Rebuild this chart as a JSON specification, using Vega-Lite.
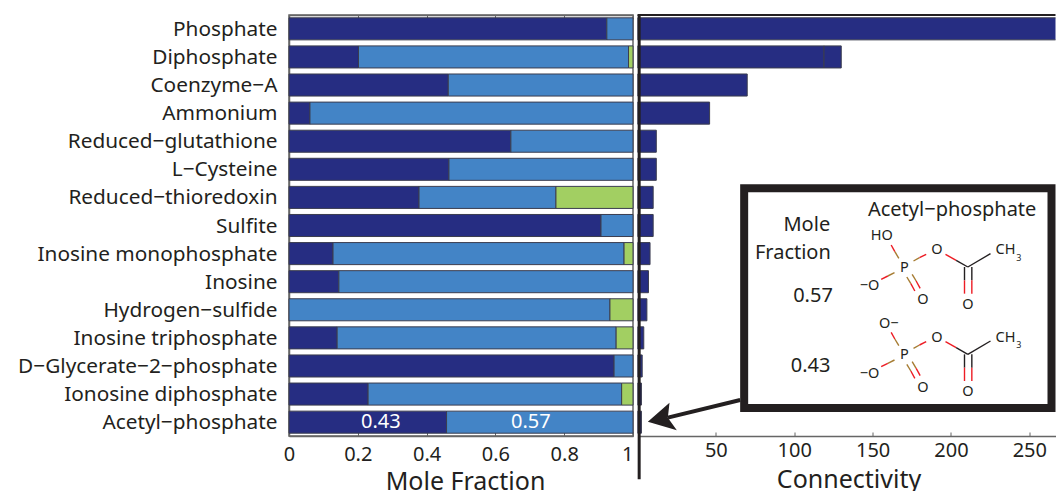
{
"$schema":"https://vega.github.io/schema/vega-lite/v6.json",
"padding":{"left":0,"top":13,"right":0,"bottom":0},
"background":"white",
"spacing":1.5,
"config":{"font":"Noto Sans"},
"resolve":{"scale":{"color":"independent"}},
"datasets":{
"bonds":[
{"m":"a","x":755,"y":222,"x2":766,"y2":242,"c":"red"},{"m":"a","x":766,"y":242,"x2":778,"y2":262,"c":"brown"},
{"m":"a","x":822,"y":270,"x2":840,"y2":260,"c":"brown"},{"m":"a","x":840,"y":260,"x2":860,"y2":250,"c":"red"},
{"m":"a","x":765,"y":305,"x2":745,"y2":315,"c":"brown"},{"m":"a","x":745,"y":315,"x2":725,"y2":325,"c":"red"},
{"m":"a","x":802,"y":318,"x2":814,"y2":338,"c":"brown"},{"m":"a","x":814,"y":338,"x2":826,"y2":360,"c":"red"},
{"m":"a","x":818,"y":310,"x2":830,"y2":330,"c":"brown"},{"m":"a","x":830,"y":330,"x2":842,"y2":352,"c":"red"},
{"m":"a","x":918,"y":250,"x2":950,"y2":268,"c":"red"},{"m":"a","x":950,"y":268,"x2":985,"y2":288,"c":"black"},
{"m":"a","x":985,"y":288,"x2":1053,"y2":248,"c":"black"},
{"m":"a","x":975,"y":288,"x2":975,"y2":328,"c":"black"},{"m":"a","x":975,"y":328,"x2":975,"y2":368,"c":"red"},
{"m":"a","x":997,"y":288,"x2":997,"y2":328,"c":"black"},{"m":"a","x":997,"y":328,"x2":997,"y2":368,"c":"red"},
{"m":"b","x":755,"y":484,"x2":766,"y2":504,"c":"red"},{"m":"b","x":766,"y":504,"x2":778,"y2":524,"c":"brown"},
{"m":"b","x":822,"y":532,"x2":840,"y2":522,"c":"brown"},{"m":"b","x":840,"y":522,"x2":860,"y2":512,"c":"red"},
{"m":"b","x":765,"y":567,"x2":745,"y2":577,"c":"brown"},{"m":"b","x":745,"y":577,"x2":725,"y2":587,"c":"red"},
{"m":"b","x":802,"y":580,"x2":814,"y2":600,"c":"brown"},{"m":"b","x":814,"y":600,"x2":826,"y2":622,"c":"red"},
{"m":"b","x":818,"y":572,"x2":830,"y2":592,"c":"brown"},{"m":"b","x":830,"y":592,"x2":842,"y2":614,"c":"red"},
{"m":"b","x":918,"y":512,"x2":950,"y2":530,"c":"red"},{"m":"b","x":950,"y":530,"x2":985,"y2":550,"c":"black"},
{"m":"b","x":985,"y":550,"x2":1053,"y2":510,"c":"black"},
{"m":"b","x":975,"y":550,"x2":975,"y2":590,"c":"black"},{"m":"b","x":975,"y":590,"x2":975,"y2":630,"c":"red"},
{"m":"b","x":997,"y":550,"x2":997,"y2":590,"c":"black"},{"m":"b","x":997,"y":590,"x2":997,"y2":630,"c":"red"}
],
"atoms":[
{"t":"HO","x":727,"y":195},{"t":"O","x":892,"y":237},{"t":"CH","x":1098,"y":237},{"t":"P","x":795,"y":291},{"t":"−O","x":690,"y":346},{"t":"O","x":850,"y":388},{"t":"O","x":985,"y":401},
{"t":"O−","x":748,"y":458},{"t":"O","x":892,"y":500},{"t":"CH","x":1098,"y":500},{"t":"P","x":795,"y":553},{"t":"−O","x":690,"y":608},{"t":"O","x":850,"y":652},{"t":"O","x":985,"y":664}
],
"subs":[{"t":"3","x":1138,"y":260},{"t":"3","x":1138,"y":523}],
"labels":[
{"t":"Mole","x":572,"y":163},{"t":"Fraction","x":574,"y":245},{"t":"0.57","x":580,"y":375},{"t":"0.43","x":573,"y":585}
]
},
"hconcat":[
{
"width":344,"height":421,
"view":{"stroke":"#666666","strokeWidth":1.5},
"data":{"values":[
{"name":"Phosphate","series":"a","f":0.924},{"name":"Phosphate","series":"b","f":0.076},
{"name":"Diphosphate","series":"a","f":0.202},{"name":"Diphosphate","series":"b","f":0.785},{"name":"Diphosphate","series":"c","f":0.013},
{"name":"Coenzyme−A","series":"a","f":0.463},{"name":"Coenzyme−A","series":"b","f":0.537},
{"name":"Ammonium","series":"a","f":0.061},{"name":"Ammonium","series":"b","f":0.939},
{"name":"Reduced−glutathione","series":"a","f":0.645},{"name":"Reduced−glutathione","series":"b","f":0.355},
{"name":"L−Cysteine","series":"a","f":0.465},{"name":"L−Cysteine","series":"b","f":0.535},
{"name":"Reduced−thioredoxin","series":"a","f":0.378},{"name":"Reduced−thioredoxin","series":"b","f":0.398},{"name":"Reduced−thioredoxin","series":"c","f":0.224},
{"name":"Sulfite","series":"a","f":0.907},{"name":"Sulfite","series":"b","f":0.093},
{"name":"Inosine monophosphate","series":"a","f":0.128},{"name":"Inosine monophosphate","series":"b","f":0.846},{"name":"Inosine monophosphate","series":"c","f":0.026},
{"name":"Inosine","series":"a","f":0.145},{"name":"Inosine","series":"b","f":0.855},
{"name":"Hydrogen−sulfide","series":"b","f":0.933},{"name":"Hydrogen−sulfide","series":"c","f":0.067},
{"name":"Inosine triphosphate","series":"a","f":0.14},{"name":"Inosine triphosphate","series":"b","f":0.811},{"name":"Inosine triphosphate","series":"c","f":0.049},
{"name":"D−Glycerate−2−phosphate\u00a0","series":"a","f":0.945},{"name":"D−Glycerate−2−phosphate\u00a0","series":"b","f":0.055},
{"name":"Ionosine diphosphate","series":"a","f":0.23},{"name":"Ionosine diphosphate","series":"b","f":0.737},{"name":"Ionosine diphosphate","series":"c","f":0.033},
{"name":"Acetyl−phosphate","series":"a","f":0.458},{"name":"Acetyl−phosphate","series":"b","f":0.542}
]},
"resolve":{"axis":{"x":"independent"}},
"layer":[
{"mark":{"type":"bar","stroke":"#3b3d4f","strokeWidth":1},
"encoding":{
"y":{"field":"name","type":"nominal","sort":null,"scale":{"paddingInner":0.215,"paddingOuter":0.1},
"axis":{"title":null,"domain":true,"domainColor":"#666666","domainWidth":1.5,"ticks":false,"labelFontSize":20.8,"labelColor":"#231f20","labelPadding":12,"labelOffset":1,"minExtent":288,"maxExtent":288,"labelLimit":290}},
"x":{"field":"f","type":"quantitative","stack":"zero","scale":{"domain":[0,1],"nice":false},
"axis":{"title":"Mole Fraction","titleFontSize":25,"titleFontWeight":"normal","titleColor":"#231f20","titlePadding":5,"titleX":176,"labelFontSize":20,"labelColor":"#231f20","labelPadding":12,"values":[0,0.2,0.4,0.6,0.8,1],"format":"~g","tickSize":-4,"tickColor":"#666666","domainColor":"#666666","domainWidth":1.5,"grid":false,"labelFlush":false,
"labelAlign":{"condition":{"test":"datum.value===1","value":"right"},"value":"center"}}},
"color":{"field":"series","type":"nominal","legend":null,"scale":{"domain":["a","b","c"],"range":["#262d82","#4384c6","#a2cf62"]}},
"order":{"field":"series"}
}},
{"data":{"values":[{"name":"Acetyl−phosphate","t":"0.43","p":0.267},{"name":"Acetyl−phosphate","t":"0.57","p":0.703}]},
"mark":{"type":"text","color":"white","fontSize":20},
"encoding":{"y":{"field":"name","type":"nominal","sort":null},"x":{"field":"p","type":"quantitative","axis":{"orient":"top","title":null,"labels":false,"domainColor":"#666666","domainWidth":1.5,"tickColor":"#666666","tickSize":-4,"values":[0,0.2,0.4,0.6,0.8,1],"grid":false}},"text":{"field":"t"}}}
]
},
{
"width":418,"height":421,
"view":{"stroke":null},
"resolve":{"scale":{"x":"independent","y":"independent"}},
"layer":[
{
"data":{"values":[
{"name":"Phosphate","part":"a","conn":300},
{"name":"Diphosphate","part":"a","conn":119},{"name":"Diphosphate","part":"b","conn":11},
{"name":"Coenzyme−A","part":"a","conn":70},
{"name":"Ammonium","part":"a","conn":46},
{"name":"Reduced−glutathione","part":"a","conn":12},
{"name":"L−Cysteine","part":"a","conn":12},
{"name":"Reduced−thioredoxin","part":"a","conn":10},
{"name":"Sulfite","part":"a","conn":10},
{"name":"Inosine monophosphate","part":"a","conn":8},
{"name":"Inosine","part":"a","conn":7},
{"name":"Hydrogen−sulfide","part":"a","conn":6},
{"name":"Inosine triphosphate","part":"a","conn":4},
{"name":"D−Glycerate−2−phosphate\u00a0","part":"a","conn":3},
{"name":"Ionosine diphosphate","part":"a","conn":2.5},
{"name":"Acetyl−phosphate","part":"a","conn":2.5}
]},
"mark":{"type":"bar","fill":"#262d82","stroke":"#3b3d4f","strokeWidth":1,"clip":true},
"encoding":{
"y":{"field":"name","type":"nominal","sort":null,"scale":{"paddingInner":0.215,"paddingOuter":0.1},"axis":null},
"x":{"field":"conn","type":"quantitative","stack":"zero","scale":{"domain":[0,266.7],"nice":false},
"axis":{"title":"Connectivity","titleFontSize":25,"titleFontWeight":"normal","titleColor":"#231f20","titlePadding":7,"titleX":211,"labelFontSize":20,"labelColor":"#231f20","labelPadding":8,"values":[50,100,150,200,250],"tickSize":-4,"tickColor":"#666666","domainColor":"#666666","domainWidth":1.5,"grid":false}},
"detail":{"field":"part"}
}
},
{
"layer":[
{"data":{"values":[{"x":-1,"y":-468,"y2":925}]},"mark":{"type":"rule","color":"#231f20","strokeWidth":3},
"encoding":{"x":{"field":"x","type":"quantitative","scale":{"domain":[-6,1248],"nice":false,"zero":false},"axis":null},"y":{"field":"y","type":"quantitative","scale":{"domain":[-468,795],"range":[0,421],"nice":false,"zero":false},"axis":null},"y2":{"field":"y2"}}},
{"data":{"values":[{"x":-6,"x2":1248,"y":-468}]},"mark":{"type":"rule","color":"#231f20","strokeWidth":2},
"encoding":{"x":{"field":"x","type":"quantitative"},"x2":{"field":"x2"},"y":{"field":"y","type":"quantitative"}}},
{"data":{"values":[{"x":302,"y":687,"x2":85,"y2":740}]},"mark":{"type":"rule","color":"#231f20","strokeWidth":4},
"encoding":{"x":{"field":"x","type":"quantitative"},"x2":{"field":"x2"},"y":{"field":"y","type":"quantitative"},"y2":{"field":"y2"}}},
{"data":{"values":[{"x":70,"y":740}]},"mark":{"type":"point","filled":true,"fill":"#231f20","stroke":"#231f20","strokeWidth":0,"opacity":1,"size":1111,"shape":"M -0.9 0.24 L 0.4 -0.9 L 0.3 0 L 0.84 0.76 Z"},
"encoding":{"x":{"field":"x","type":"quantitative"},"y":{"field":"y","type":"quantitative"}}},
{"data":{"values":[{"x":314,"x2":1236,"y":52,"y2":711}]},"mark":{"type":"rect","fill":"white","stroke":"#231f20","strokeWidth":8},
"encoding":{"x":{"field":"x","type":"quantitative"},"x2":{"field":"x2"},"y":{"field":"y","type":"quantitative"},"y2":{"field":"y2"}}},
{"data":{"name":"bonds"},"mark":{"type":"rule","strokeWidth":1.4},
"encoding":{"x":{"field":"x","type":"quantitative"},"x2":{"field":"x2"},"y":{"field":"y","type":"quantitative"},"y2":{"field":"y2"},"detail":{"field":"m"},
"color":{"field":"c","type":"nominal","legend":null,"scale":{"domain":["red","brown","black"],"range":["#ed1c24","#a67c32","#231f20"]}}}},
{"data":{"name":"atoms"},"mark":{"type":"text","fontSize":14.5,"color":"#231f20"},
"encoding":{"x":{"field":"x","type":"quantitative"},"y":{"field":"y","type":"quantitative"},"text":{"field":"t"}}},
{"data":{"name":"subs"},"mark":{"type":"text","fontSize":9,"color":"#231f20"},
"encoding":{"x":{"field":"x","type":"quantitative"},"y":{"field":"y","type":"quantitative"},"text":{"field":"t"}}},
{"data":{"name":"labels"},"mark":{"type":"text","fontSize":20,"align":"right","color":"#231f20"},
"encoding":{"x":{"field":"x","type":"quantitative"},"y":{"field":"y","type":"quantitative"},"text":{"field":"t"}}},
{"data":{"values":[{"t":"Acetyl−phosphate","x":938,"y":118}]},"mark":{"type":"text","fontSize":20,"color":"#231f20"},
"encoding":{"x":{"field":"x","type":"quantitative"},"y":{"field":"y","type":"quantitative"},"text":{"field":"t"}}}
]
}
]
}
]
}
